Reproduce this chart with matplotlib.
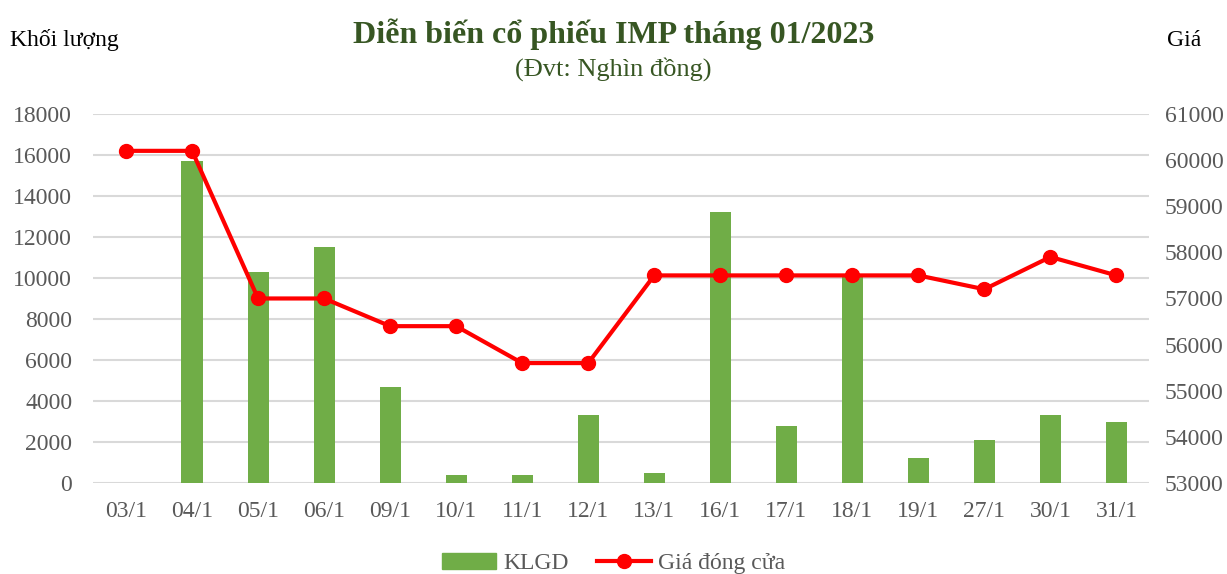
import matplotlib
matplotlib.use("Agg")
import matplotlib.pyplot as plt
from matplotlib.lines import Line2D
from matplotlib.patches import Patch
import numpy as np

ngay = ["03/1", "04/1", "05/1", "06/1", "09/1", "10/1", "11/1", "12/1",
        "13/1", "16/1", "17/1", "18/1", "19/1", "27/1", "30/1", "31/1"]
klgd = [0, 15700, 10300, 11500, 4700, 400, 400, 3300,
        500, 13200, 2800, 10100, 1200, 2100, 3300, 3000]
gia = [60200, 60200, 57000, 57000, 56400, 56400, 55600, 55600,
       57500, 57500, 57500, 57500, 57500, 57200, 57900, 57500]

plt.rcParams["font.family"] = ["Liberation Serif", "DejaVu Serif"]
XAM = "#595959"
XANH = "#70AD47"

fig = plt.figure(figsize=(12.27, 5.74), dpi=100)
ax = fig.add_axes([0.0758, 0.1585, 0.861, 0.643])
ax2 = ax.twinx()

x = np.arange(len(ngay))
ax.bar(x, klgd, width=0.32, color=XANH, zorder=2)
ax2.plot(x, gia, color="#FF0000", lw=3, marker="o", ms=10, zorder=3)

ax.set_xlim(-0.5, len(ngay) - 0.5)
ax.set_ylim(0, 18000)
ax.set_yticks(range(0, 18001, 2000))
ax2.set_ylim(53000, 61000)
ax2.set_yticks(range(53000, 61001, 1000))
ax.set_xticks(x)
ax.set_xticklabels(ngay)

ax.grid(axis="y", color="#D9D9D9", lw=1.5, zorder=0)
ax.set_axisbelow(True)
for a in (ax, ax2):
    for s in a.spines.values():
        s.set_visible(False)
    a.tick_params(length=0, labelsize=17, labelcolor=XAM)
ax.tick_params(axis="y", pad=15)
ax.tick_params(axis="x", pad=13)
ax2.tick_params(axis="y", pad=11)

fig.text(0.5, 0.94, "Diễn biến cổ phiếu IMP tháng 01/2023", ha="center",
         va="center", fontsize=23, fontweight="bold", color="#375623")
fig.text(0.5, 0.88, "(Đvt: Nghìn đồng)", ha="center", va="center",
         fontsize=19, color="#375623")
fig.text(0.008, 0.93, "Khối lượng", ha="left", va="center", fontsize=17)
fig.text(0.979, 0.93, "Giá", ha="right", va="center", fontsize=17)

handles = [Patch(color=XANH),
           Line2D([], [], color="#FF0000", lw=3, marker="o", ms=10)]
fig.legend(handles, ["KLGD", "Giá đóng cửa"], loc="center",
           bbox_to_anchor=(0.5, 0.018), ncol=2, frameon=False, fontsize=17,
           labelcolor=XAM, handlelength=2.3, handletextpad=0.3, columnspacing=1.2)

fig.savefig("out.png", dpi=100)
